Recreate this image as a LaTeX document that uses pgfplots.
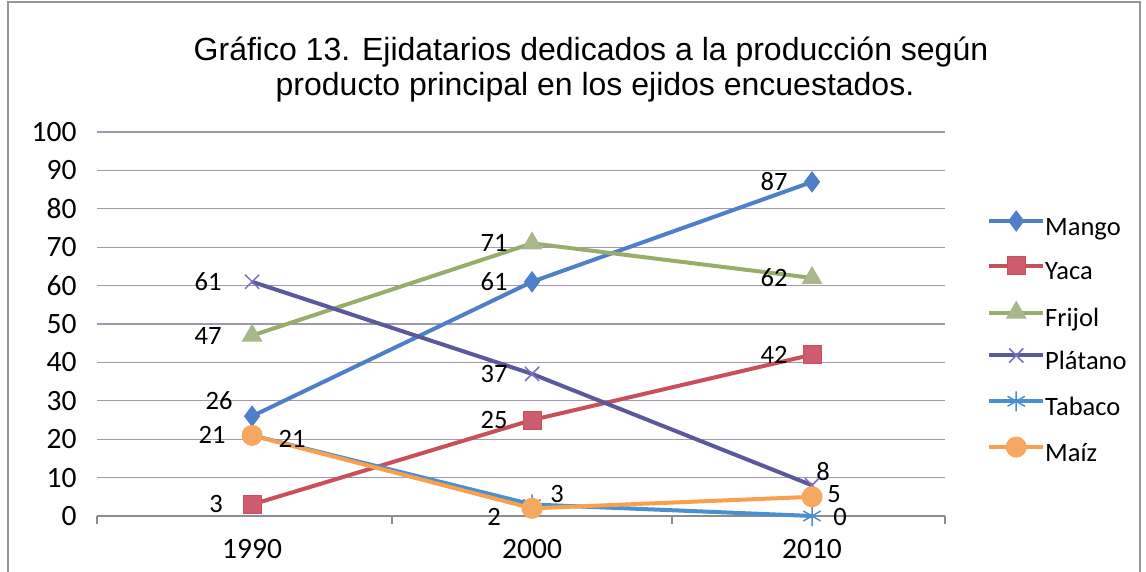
\documentclass[border=0pt]{standalone}
\usepackage{fontspec}
\setmainfont{Carlito}
\newfontfamily\titlefont{Liberation Sans}
\usepackage{pgfplots}
\usepackage{pgfplotstable}
\pgfplotsset{compat=1.18}

\definecolor{cMango}{RGB}{79,127,200}
\definecolor{cYaca}{RGB}{200,80,90}
\definecolor{cYacaM}{RGB}{204,92,110}
\definecolor{cFrijol}{RGB}{152,173,107}
\definecolor{cFrijolM}{RGB}{168,184,138}
\definecolor{cPlatano}{RGB}{92,88,156}
\definecolor{cPlatanoM}{RGB}{120,112,190}
\definecolor{cTabaco}{RGB}{74,143,208}
\definecolor{cMaiz}{RGB}{247,160,80}
\definecolor{cMaizM}{RGB}{247,168,96}
\definecolor{gridcol}{RGB}{160,152,172}
\definecolor{axisgray}{RGB}{140,140,140}
\definecolor{framegray}{RGB}{150,150,150}

\pgfplotstableread{
x Mango Yaca Frijol Platano Tabaco Maiz
0 26 3 47 61 21 21
1 61 25 71 37 3 2
2 87 42 62 8 0 5
}\datatable

\newcommand{\lblfont}{\fontsize{26.5}{30}\selectfont}
\newcommand{\tickfont}{\fontsize{29.5}{33}\selectfont}
\newcommand{\lbl}[4]{\node[font=\lblfont,inner sep=0pt] at ([shift={(#3pt,#4pt)}]axis cs:#1) {#2};}

\begin{document}
\begin{tikzpicture}[x=1pt,y=1pt]
\useasboundingbox (0,0) rectangle (1146,571);
\draw[framegray, line width=1.5pt] (8,-5) rectangle (1140,569);
\node[font=\titlefont\fontsize{32}{38}\selectfont] at (591,519) {Gráfico 13. Ejidatarios dedicados a la producción según};
\node[font=\titlefont\fontsize{32}{38}\selectfont] at (595,484) {producto principal en los ejidos encuestados.};
\begin{axis}[
  at={(97pt,55pt)}, anchor=south west, scale only axis,
  width=848pt, height=384pt,
  xmin=-0.554, xmax=2.475, ymin=0, ymax=100,
  xtick={0,1,2}, xticklabels={1990,2000,2010},
  minor xtick={-0.554,0.5,1.5,2.475},
  ytick={0,10,...,100},
  ymajorgrids, grid style={gridcol, line width=1.3pt},
  axis x line*=bottom, axis y line*=left,
  y axis line style={draw=none},
  x axis line style={axisgray, line width=1.5pt},
  major tick length=0pt, minor tick length=8pt, tick align=outside,
  minor tick style={axisgray, line width=1.2pt},
  tick label style={font=\tickfont},
  xticklabel style={yshift=-20pt},
  yticklabel style={xshift=-17pt},
  /pgf/number format/assume math mode=true,
  clip=false,
  legend style={at={(1.046,0.80)}, anchor=north west, draw=none, fill=none,
    font=\lblfont, row sep=15.8pt,
    nodes={inner sep=0pt, text height=18pt, text depth=6pt},
    /tikz/every even column/.append style={column sep=6pt}},
  legend cell align=left,
  legend image code/.code={\draw[mark repeat=2,mark phase=2,#1,yshift=8pt] plot coordinates {(0pt,0pt) (27pt,0pt) (54pt,0pt)};},
]
\addplot[cMango, line width=4pt, mark=diamond*, mark size=10pt, mark options={solid, fill=cMango, draw=cMango, line width=1pt}] table[x=x,y=Mango] {\datatable};
\addlegendentry{Mango}
\addplot[cYaca, line width=4pt, mark=square*, mark size=9pt, mark options={solid, fill=cYacaM, draw=cYaca, line width=1pt}] table[x=x,y=Yaca] {\datatable};
\addlegendentry{Yaca}
\addplot[cFrijol, line width=4pt, mark=triangle*, mark size=11pt, mark options={solid, fill=cFrijolM, draw=cFrijolM, line width=1pt}] table[x=x,y=Frijol] {\datatable};
\addlegendentry{Frijol}
\addplot[cPlatano, line width=4pt, mark=x, mark size=10pt, mark options={solid, draw=cPlatanoM, line width=1.5pt}] table[x=x,y=Platano] {\datatable};
\addlegendentry{Plátano}
\addplot[cTabaco, line width=4pt, mark=asterisk, mark size=10pt, mark options={solid, draw=cTabaco, line width=1.5pt}] table[x=x,y=Tabaco] {\datatable};
\addlegendentry{Tabaco}
\addplot[cMaiz, line width=4pt, mark=*, mark size=10pt, mark options={solid, fill=cMaizM, draw=cMaizM, line width=1pt}] table[x=x,y=Maiz] {\datatable};
\addlegendentry{Maíz}
% data labels
\lbl{0,26}{26}{-33}{16}
\lbl{1,61}{61}{-38}{0}
\lbl{2,87}{87}{-38}{0}
\lbl{0,3}{3}{-36}{0}
\lbl{1,25}{25}{-38}{0}
\lbl{2,42}{42}{-38}{0}
\lbl{0,47}{47}{-44}{0}
\lbl{1,71}{71}{-38}{0}
\lbl{2,62}{62}{-38}{0}
\lbl{0,61}{61}{-44}{0}
\lbl{1,37}{37}{-38}{0}
\lbl{2,8}{8}{11}{14}
\lbl{0,21}{21}{40}{-4}
\lbl{1,3}{3}{25}{10}
\lbl{2,0}{0}{28}{-1}
\lbl{0,21}{21}{-40}{0}
\lbl{1,2}{2}{-38}{-9}
\lbl{2,5}{5}{22}{3}
\end{axis}
\end{tikzpicture}
\end{document}
